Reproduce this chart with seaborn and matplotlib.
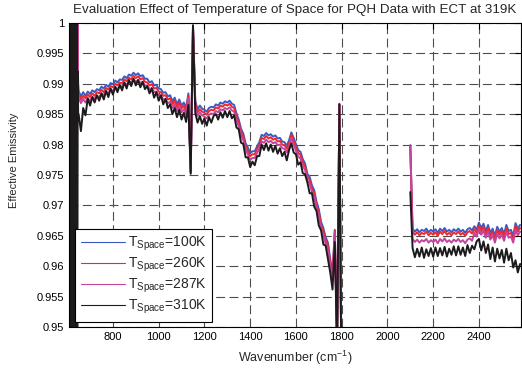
import numpy as np
import pandas as pd
import matplotlib.pyplot as plt
import seaborn as sns
from matplotlib.lines import Line2D
from matplotlib.ticker import FuncFormatter

sns.set_style("white")
plt.rcParams['font.family'] = ['Liberation Sans', 'DejaVu Sans']
plt.rcParams['mathtext.fontset'] = 'custom'
plt.rcParams['mathtext.rm'] = 'Liberation Sans'

# Wavenumber grids (cm-1): noisy band edge, main band, window after the gap
wn_edge = np.arange(606, 650, 2)
wn_a = np.arange(650, 1801, 10)
wn_b = np.arange(2100, 2581, 10)

# Effective emissivity in units of 1e-4 above 0.95
blue_edge = [-200, 700, -200, 700, -200, 700, -200, 700, -200, 700, -200,
             700, -200, 700, -200, 700, -200, 700, -200, 700, 450, 400]
red_edge = [-200, 700, -200, 700, -200, 700, -200, 700, -200, 700, -200,
            700, -200, 700, -200, 700, -200, 700, -200, 700, 445, 395]
mag_edge = [-200, 700, -200, 700, -200, 700, -200, 700, -200, 700, -200,
            700, -200, 700, -200, 700, -200, 700, -200, 700, 440, 385]
black_edge = [700, -200, 700, -200, 700, -200, 700, -200, 700, -200, 700,
              -200, 700, -200, 700, -200, 700, -200, 700, -200, 420, 350]

blue_a = [388, 379, 386, 380, 387, 383, 389, 386, 391, 389,
          395, 392, 398, 395, 401, 399, 405, 402, 407, 406,
          412, 409, 415, 413, 418, 414, 417, 412, 414, 408,
          408, 402, 404, 397, 398, 392, 391, 385, 386, 379,
          381, 371, 377, 366, 374, 364, 369, 360, 384, 255,
          495, 372, 358, 364, 359, 357, 354, 360, 362, 361,
          366, 364, 369, 367, 371, 369, 372, 367, 365, 351,
          341, 326, 318, 302, 295, 286, 289, 289, 297, 304,
          316, 314, 319, 315, 317, 313, 315, 310, 311, 305,
          304, 298, 307, 320, 311, 301, 291, 288, 276, 269,
          252, 247, 233, 225, 206, 194, 173, 163, 148, 139,
          112, 88, 160, -30, 367, -150]
red_a = [383, 374, 380, 376, 382, 378, 384, 380, 386, 384,
         390, 386, 393, 390, 396, 394, 400, 397, 402, 400,
         407, 404, 410, 407, 413, 409, 412, 407, 409, 403,
         402, 397, 399, 392, 393, 387, 386, 380, 381, 374,
         376, 366, 372, 361, 369, 359, 364, 355, 380, 255,
         494, 367, 353, 358, 354, 352, 349, 355, 357, 356,
         361, 359, 364, 362, 366, 364, 367, 362, 360, 346,
         336, 321, 313, 297, 289, 281, 284, 284, 292, 299,
         311, 309, 314, 310, 312, 308, 310, 305, 306, 300,
         299, 293, 302, 316, 306, 296, 286, 283, 271, 264,
         247, 242, 228, 220, 201, 189, 168, 158, 143, 134,
         107, 83, 158, -30, 366, -150]
mag_a = [377, 368, 375, 369, 376, 372, 378, 375, 380, 378,
         384, 381, 387, 384, 390, 388, 394, 391, 396, 395,
         401, 398, 404, 402, 407, 403, 406, 401, 403, 397,
         397, 391, 393, 386, 387, 381, 380, 374, 375, 368,
         370, 360, 366, 355, 363, 353, 358, 349, 376, 254,
         492, 361, 347, 353, 348, 346, 343, 349, 351, 350,
         355, 353, 358, 356, 360, 358, 361, 356, 354, 340,
         330, 315, 307, 291, 284, 275, 278, 278, 286, 293,
         305, 303, 308, 304, 306, 302, 304, 299, 300, 294,
         293, 287, 296, 311, 300, 290, 280, 277, 265, 258,
         241, 236, 222, 214, 195, 183, 162, 152, 137, 128,
         101, 77, 156, -30, 365, -150]
black_a = [350, 322, 360, 348, 376, 364, 378, 369, 381, 372,
           384, 374, 388, 378, 392, 382, 395, 386, 398, 389,
           402, 392, 406, 396, 408, 397, 406, 394, 403, 391,
           396, 384, 392, 377, 386, 372, 381, 366, 375, 360,
           366, 350, 360, 345, 357, 341, 352, 337, 365, 252,
           496, 352, 336, 347, 334, 343, 331, 345, 336, 347,
           350, 341, 353, 344, 355, 345, 355, 343, 348, 328,
           325, 303, 301, 279, 279, 263, 272, 266, 281, 281,
           300, 291, 302, 290, 300, 288, 298, 285, 294, 281,
           288, 274, 291, 302, 287, 284, 267, 271, 253, 251,
           238, 220, 220, 198, 191, 167, 159, 136, 134, 112,
           90, 62, 140, -40, 366, -150]

blue_b = [299, 162, 157, 161, 156, 160, 158, 162, 156, 160,
          157, 161, 155, 162, 158, 163, 157, 160, 156, 161,
          158, 162, 157, 160, 155, 161, 163, 159, 166, 160,
          172, 163, 170, 158, 168, 155, 162, 150, 165, 157,
          163, 153, 168, 158, 160, 150, 171, 162, 168]
red_b = [298, 157, 152, 156, 151, 155, 153, 157, 151, 155,
         152, 156, 150, 157, 153, 158, 152, 155, 151, 156,
         153, 157, 152, 155, 150, 156, 158, 154, 161, 155,
         167, 158, 165, 153, 163, 150, 157, 145, 160, 152,
         158, 148, 163, 153, 155, 145, 166, 157, 163]
mag_b = [296, 145, 140, 144, 139, 143, 141, 145, 139, 143,
         140, 144, 138, 145, 141, 146, 140, 143, 139, 144,
         141, 145, 140, 143, 138, 144, 146, 142, 155, 149,
         161, 152, 159, 147, 157, 144, 151, 139, 154, 146,
         152, 142, 157, 147, 149, 139, 160, 151, 157]
black_b = [222, 130, 115, 129, 116, 131, 114, 128, 117, 130,
           116, 131, 117, 130, 118, 132, 116, 129, 119, 133,
           118, 133, 119, 131, 117, 135, 122, 134, 128, 141,
           145, 126, 141, 122, 136, 112, 131, 108, 129, 113,
           127, 106, 129, 110, 122, 98, 110, 90, 104]

temps = ['100K', '260K', '287K', '310K']
colors = ['#3b5bc4', '#f0282d', '#c4449c', '#1c1a1b']
edges = [blue_edge, red_edge, mag_edge, black_edge]
parts_a = [blue_a, red_a, mag_a, black_a]
parts_b = [blue_b, red_b, mag_b, black_b]

# long table, two segments per series so the 1800-2100 gap stays empty
frames = []
for t, e, a, b in zip(temps, edges, parts_a, parts_b):
    x = np.concatenate([wn_edge, wn_a, wn_b])
    y = 0.95 + np.array(e + a + b) / 1e4
    seg = [0] * (len(wn_edge) + len(wn_a)) + [1] * len(wn_b)
    frames.append(pd.DataFrame({'wn': x, 'eps': y, 'T': t, 'seg': seg}))
df = pd.concat(frames, ignore_index=True)

fig = plt.figure(figsize=(5.22, 3.70), dpi=100)
ax = fig.add_axes([0.1322, 0.1154, 0.8659, 0.8232])

sns.lineplot(data=df, x='wn', y='eps', hue='T', hue_order=temps,
             palette=colors, units='seg', estimator=None, lw=1.4,
             legend=False, ax=ax)

ax.set_xlim(608, 2584)
ax.set_ylim(0.95, 1.0)
ax.set_xticks(np.arange(800, 2401, 200))
ax.set_yticks(np.arange(0.95, 1.0001, 0.005))
ax.yaxis.set_major_formatter(FuncFormatter(lambda v, p: '%g' % round(v, 3)))
ax.tick_params(direction='in', length=4, width=0.8, top=True, right=True,
               labelsize=8, pad=3.5, colors='black')
ax.grid(True, color='0.3', linestyle=(0, (8, 4)), linewidth=0.8)
ax.set_axisbelow(True)
for s in ax.spines.values():
    s.set_color('black')
    s.set_linewidth(0.8)

ax.set_xlabel(r'Wavenumber (cm$^{\mathregular{-1}}$)', fontsize=9)
ax.xaxis.set_label_coords(0.5, -0.072)
ax.set_ylabel('Effective Emissivity', fontsize=8)
ax.yaxis.set_label_coords(-0.111, 0.549)
fig.text(0.564, 0.973, 'Evaluation Effect of Temperature of Space for PQH Data with ECT at 319K',
         ha='center', va='center', fontsize=9.6)

handles = [Line2D([], [], color=c, lw=0.8) for c in colors]
labels = ['T$_{\\mathregular{Space}}$=' + t for t in temps]
leg = ax.legend(handles, labels, loc='lower left', bbox_to_anchor=(0.0133, 0.0174),
                borderaxespad=0, fontsize=10, handlelength=3.2, handletextpad=0.2,
                labelspacing=0.2, borderpad=0.4, fancybox=False, framealpha=1,
                edgecolor='black')
leg.get_frame().set_linewidth(0.8)

fig.savefig('out.png', dpi=100)
